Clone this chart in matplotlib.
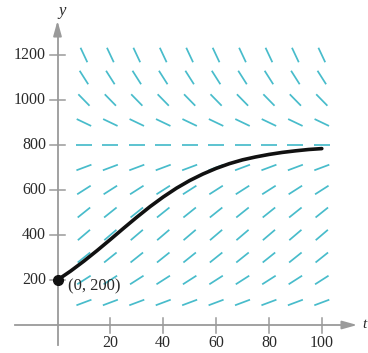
import numpy as np
import matplotlib
matplotlib.use("Agg")
import matplotlib.pyplot as plt
from matplotlib.collections import LineCollection

# ---- data ----
t_grid = [10, 20, 30, 40, 50, 60, 70, 80, 90, 100]
y_grid = [100, 200, 300, 400, 500, 600, 700, 800, 900, 1000, 1100, 1200]
row_slopes = [4.4, 7.5, 9.4, 10.0, 9.4, 7.5, 4.4, 0.0, -5.6, -12.0, -18.5, -25.0]

curve_t = [0, 5, 10, 15, 20, 25, 30, 35, 40, 45, 50, 55, 60, 65, 70, 75, 80, 85, 90, 95, 100]
curve_y = [200, 240, 284, 331, 380, 430, 479, 526, 569, 608, 642, 671, 696, 717, 734, 747, 758, 767, 774, 780, 784]

x_ticks = [20, 40, 60, 80, 100]
y_ticks = [200, 400, 600, 800, 1000, 1200]
point = (0, 200)
point_label = "(0, 200)"

# ---- figure ----
W, H = 368, 353
fig = plt.figure(figsize=(W / 100, H / 100), dpi=100)
ax = fig.add_axes([0, 0, 1, 1])
ax.set_axis_off()

x0px, sx = 57.5, 2.643      # px of t=0, px per unit
y0px, sy = 325.0, 0.225     # px (from top) of y=0, px per unit
ax.set_xlim(-x0px / sx, (W - x0px) / sx)
ax.set_ylim((y0px - H) / sy, y0px / sy)

serif = ["Liberation Serif", "DejaVu Serif"]
seg_color = "#48bccb"
axis_color = "#9a9a9a"
text_color = "#2a2a2a"

# slope field segments
seg_len_px = 16.0
segs = []
for yv, s in zip(y_grid, row_slopes):
    dxp, dyp = sx, sy * s
    n = np.hypot(dxp, dyp)
    hx = (dxp / n) * seg_len_px / 2 / sx
    hy = (dyp / n) * seg_len_px / 2 / sy
    for tv in t_grid:
        segs.append([(tv - hx, yv - hy), (tv + hx, yv + hy)])
ax.add_collection(LineCollection(segs, colors=seg_color, linewidths=1.25, zorder=2))

# axes lines with arrows
ax.plot([(15 - x0px) / sx, (350 - x0px) / sx], [0, 0], color=axis_color, lw=1.3, zorder=1)
ax.annotate("", xy=((360 - x0px) / sx, 0), xytext=((343 - x0px) / sx, 0),
            arrowprops=dict(arrowstyle="-|>,head_length=0.9,head_width=0.25",
                            color=axis_color, lw=1.3), zorder=1)
ax.plot([0, 0], [(y0px - 345) / sy, (y0px - 30) / sy], color=axis_color, lw=1.3, zorder=1)
ax.annotate("", xy=(0, (y0px - 18) / sy), xytext=(0, (y0px - 35) / sy),
            arrowprops=dict(arrowstyle="-|>,head_length=0.9,head_width=0.25",
                            color=axis_color, lw=1.3), zorder=1)

# ticks
for xt in x_ticks:
    ax.plot([xt, xt], [-8 / sy, 7 / sy], color=axis_color, lw=1.1, zorder=1)
    ax.text(xt, (y0px - 343) / sy, str(xt), ha="center", va="center",
            fontsize=11.5, family=serif, color=text_color)
for yt in y_ticks:
    ax.plot([-8 / sx, 7 / sx], [yt, yt], color=axis_color, lw=1.1, zorder=1)
    ax.text((46 - x0px) / sx, yt, str(yt), ha="right", va="center",
            fontsize=11.5, family=serif, color=text_color)

# axis labels
ax.text((62 - x0px) / sx, (y0px - 11) / sy, "y", ha="center", va="center",
        fontsize=12, family=serif, style="italic", color=text_color)
ax.text((362 - x0px) / sx, 0, "t", ha="left", va="center",
        fontsize=11, family=serif, style="italic", color=text_color)

# solution curve
ax.plot(curve_t, curve_y, color="#111111", lw=2.6, solid_capstyle="round", zorder=3)
ax.plot([point[0]], [point[1]], "o", color="#111111", ms=7, zorder=4)
ax.text((68 - x0px) / sx, (y0px - 286) / sy, point_label, ha="left", va="center",
        fontsize=12, family=serif, color=text_color, zorder=4)

fig.savefig("out.png", dpi=100)
